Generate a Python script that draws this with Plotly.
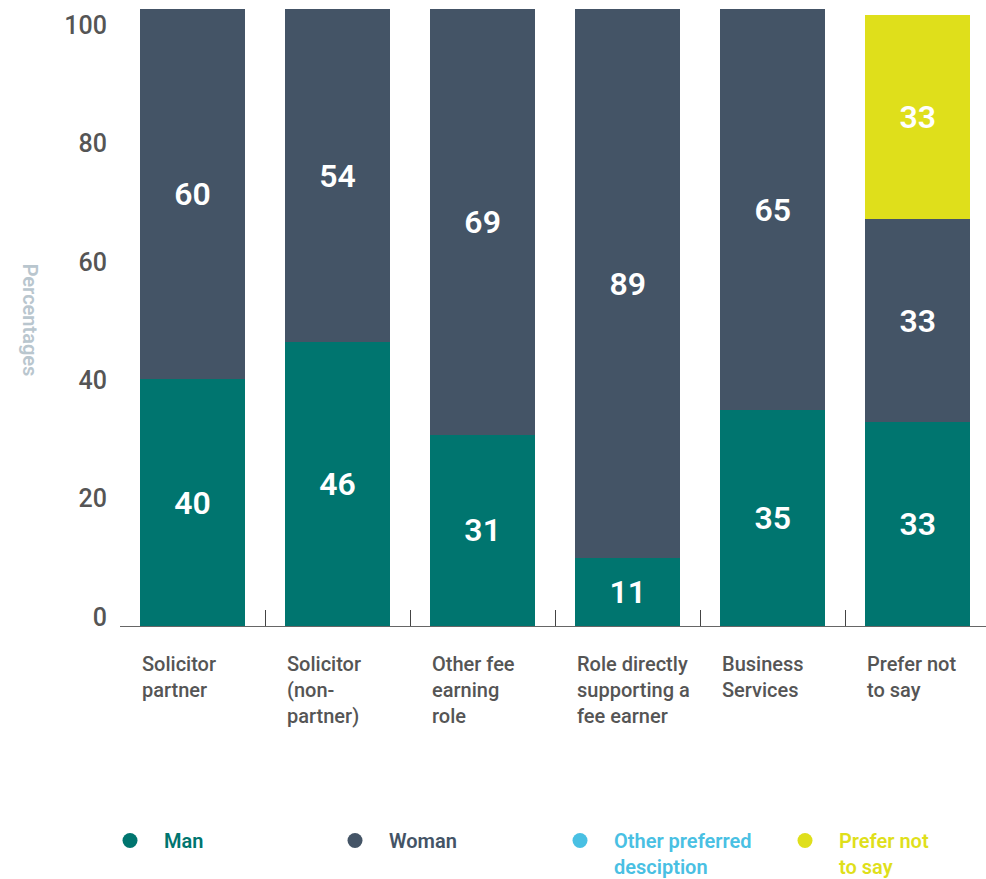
import plotly.graph_objects as go

categories = ["Solicitor partner", "Solicitor (non-partner)", "Other fee earning role",
              "Role directly supporting a fee earner", "Business Services", "Prefer not to say"]
category_labels = ["Solicitor<br>partner", "Solicitor<br>(non-<br>partner)", "Other fee<br>earning<br>role",
                   "Role directly<br>supporting a<br>fee earner", "Business<br>Services", "Prefer not<br>to say"]
man = [40, 46, 31, 11, 35, 33]
woman = [60, 54, 69, 89, 65, 33]
other = [0, 0, 0, 0, 0, 0]
prefer = [0, 0, 0, 0, 0, 33]
y_ticks = [0, 20, 40, 60, 80, 100]

series = [
    ("Man", man, "#00756f", "#00756f", "Man"),
    ("Woman", woman, "#445466", "#445466", "Woman"),
    ("Other preferred desciption", other, "#49c0e3", "#49c0e3", "Other preferred<br>desciption"),
    ("Prefer not to say", prefer, "#dfdf1b", "#dfdf1b", "Prefer not<br>to say"),
]

FONT = "Roboto"
fig = go.Figure()
for name, vals, col, tcol, legname in series:
    fig.add_trace(go.Bar(
        x=categories, y=vals, name=name, marker_color=col, marker_line_width=0,
        text=[str(v) if v else "" for v in vals], textposition="inside",
        insidetextanchor="middle", textangle=0, constraintext="none",
        textfont=dict(family=FONT, size=32, color="white", weight=600),
        showlegend=False, hoverinfo="skip", legendgroup=name,
    ))
for name, vals, col, tcol, legname in series:
    fig.add_trace(go.Scatter(
        x=[None], y=[None], mode="markers", yaxis="y2", legendgroup=name,
        name=f"<span style='color:{tcol}'>{legname}</span>",
        marker=dict(color=col, size=15, symbol="circle"),
    ))

for cat, lab in zip(categories, category_labels):
    fig.add_annotation(x=cat, xref="x", y=0, yref="paper", yshift=-24, yanchor="top",
                       text=lab, showarrow=False, align="left", xanchor="left", xshift=-53,
                       font=dict(family=FONT, size=20, color="#555555", weight=500))

fig.add_annotation(text="Percentages", textangle=90, xref="paper", yref="paper",
                   x=-0.104, y=0.495, showarrow=False, xanchor="center", yanchor="middle",
                   font=dict(family=FONT, size=20, color="#b9c6ce", weight=600))

fig.update_layout(
    width=986, height=879, barmode="stack", bargap=0.276,
    paper_bgcolor="white", plot_bgcolor="white",
    margin=dict(l=120, r=0, t=9, b=253, autoexpand=False),
    xaxis=dict(range=[-0.5, 5.47], showticklabels=False, tickson="boundaries",
               ticks="inside", ticklen=16, tickcolor="#444444", tickwidth=1,
               showline=True, linecolor="#666666", linewidth=1, showgrid=False, zeroline=False),
    yaxis=dict(range=[0, 100], showticklabels=False, showgrid=False, zeroline=False,
               showline=False, ticks=""),
    yaxis2=dict(range=[-1.52, 102.7], overlaying="y", side="left", tickvals=y_ticks,
                showgrid=False, zeroline=False, showline=False, ticks="",
                tickfont=dict(family=FONT, size=25, color="#555555", weight=500),
                ticklabelstandoff=12),
    legend=dict(orientation="h", x=-0.0277, xanchor="left", y=-0.316, yanchor="top",
                entrywidth=152, entrywidthmode="pixels", valign="top",
                font=dict(family=FONT, size=20, weight=600), itemwidth=58,
                itemclick=False, itemdoubleclick=False),
    font=dict(family=FONT),
)

fig.write_html("out.html", config={"displayModeBar": False},
               post_script="document.body.style.margin='0';document.body.style.overflow='hidden';")
